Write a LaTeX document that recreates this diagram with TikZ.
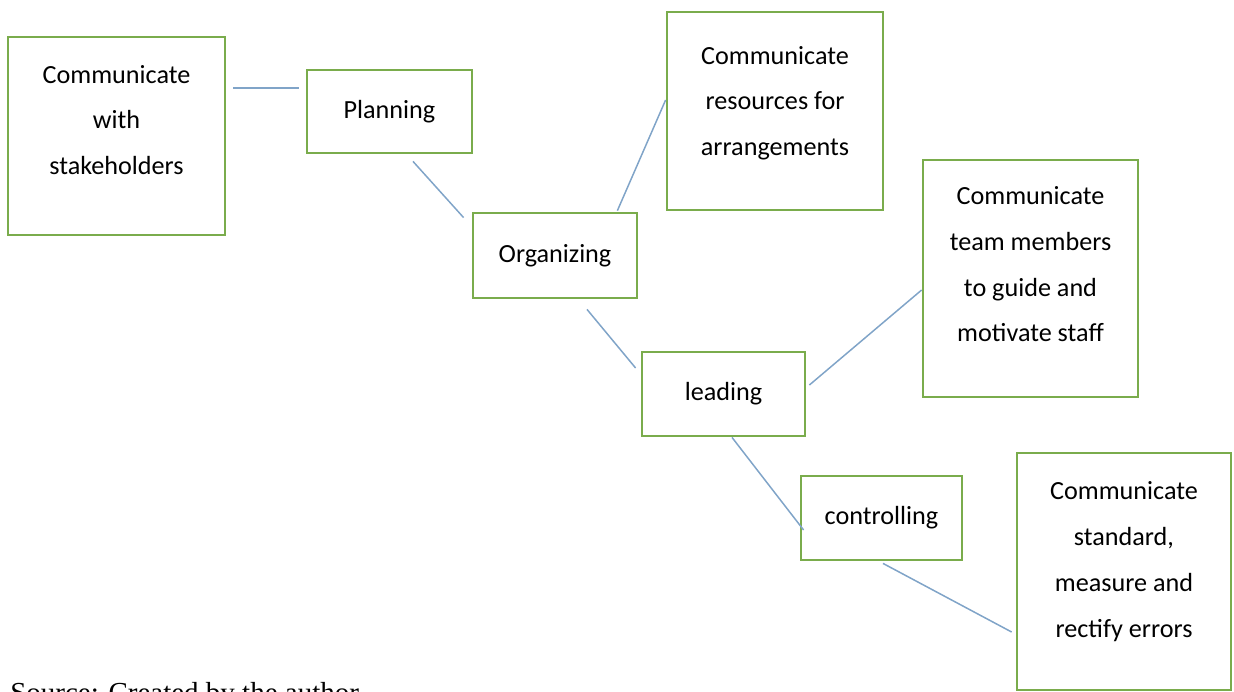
\documentclass[tikz,border=0pt]{standalone}
\usepackage{fontspec}
\setmainfont{Carlito}
\newfontfamily\sourcefont{Liberation Serif}
\definecolor{boxgreen}{RGB}{122,172,76}
\definecolor{linkblue}{RGB}{128,164,200}
% empty last line, pushes the text of a tall box upwards
\newcommand{\padbelow}[1]{\\[#1]\mbox{}}

\begin{document}
\begin{tikzpicture}[x=0.02cm, y=-0.02cm,
    box/.style={draw=boxgreen, line width=1.6pt, align=center, inner sep=0pt,
      font=\fontsize{14.9}{26}\selectfont},
    link/.style={draw=linkblue, line width=0.85pt}]
  \useasboundingbox (0,0) rectangle (1234,691);
  \clip (0,0) rectangle (1234,691);
  % nodes
  \node[box, minimum width=4.34cm, minimum height=3.96cm] (stake) at (116.5,136) {Communicate\\with\\stakeholders\padbelow{-7.7pt}};
  \node[box, minimum width=3.3cm, minimum height=1.66cm] (plan) at (389.5,111.5) {Planning};
  \node[box, minimum width=4.32cm, minimum height=3.96cm] (res) at (775,111) {Communicate\\resources for\\arrangements\padbelow{-14.5pt}};
  \node[box, minimum width=3.28cm, minimum height=1.7cm] (org) at (555,255.5) {Organizing};
  \node[box, minimum width=4.3cm, minimum height=4.74cm] (team) at (1030.5,278.5) {Communicate\\team members\\to guide and\\motivate staff\padbelow{-10pt}};
  \node[box, minimum width=3.26cm, minimum height=1.68cm] (lead) at (723.5,394) {leading};
  \node[box, minimum width=3.22cm, minimum height=1.68cm] (ctrl) at (881.5,518) {controlling};
  \node[box, minimum width=4.28cm, minimum height=4.74cm] (std) at (1124,571.5) {Communicate\\standard,\\measure and\\rectify errors\padbelow{-12.3pt}};
  % source line, cut by the page edge
  \node[font=\sourcefont\fontsize{16.5}{20}\selectfont, anchor=base west, inner sep=0pt] (src) at (10,702) {Source: Created by the author};
  % lines
  \draw[link] ([shift={(7,-48)}]stake.east) -- ([shift={(-7,-23.5)}]plan.west);
  \draw[link] ([shift={(23.5,7)}]plan.south) -- ([shift={(-8,6)}]org.north west);
  \draw[link] ([shift={(-21,-1)}]org.north east) -- ([shift={(0,-11)}]res.west);
  \draw[link] ([shift={(32,10)}]org.south) -- ([shift={(-5,-26)}]lead.west);
  \draw[link] ([shift={(3,-9)}]lead.east) -- ([shift={(0,11.5)}]team.west);
  \draw[link] ([shift={(8.5,0)}]lead.south) -- ([shift={(4,12)}]ctrl.west);
  \draw[link] ([shift={(1.5,2)}]ctrl.south) -- ([shift={(-4,60.5)}]std.west);
\end{tikzpicture}
\end{document}
